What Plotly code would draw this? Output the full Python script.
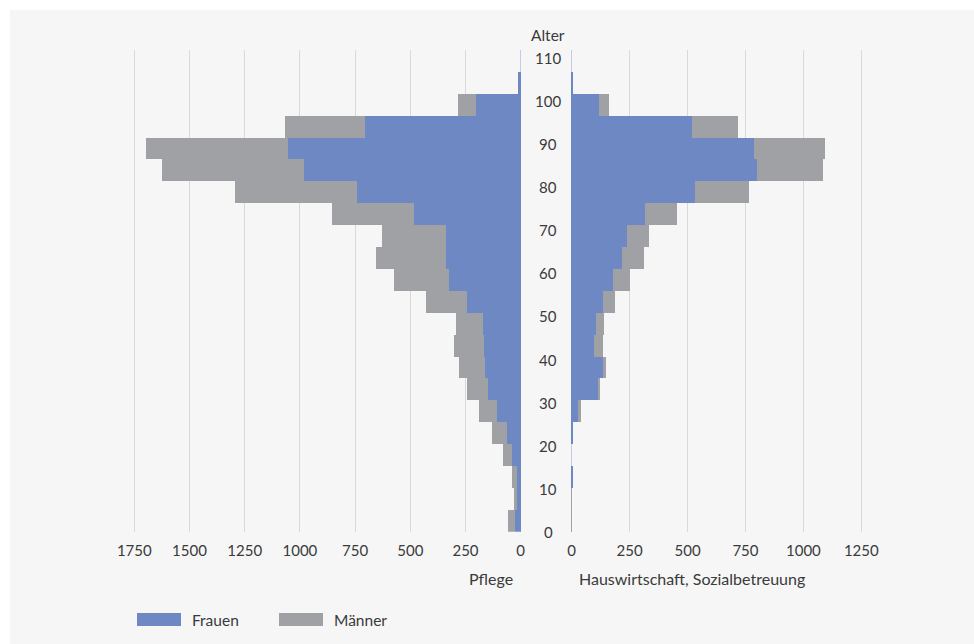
import plotly.graph_objects as go

# ---------------- data ----------------
AGE_GROUPS = ["0-4", "5-9", "10-14", "15-19", "20-24", "25-29", "30-34", "35-39",
              "40-44", "45-49", "50-54", "55-59", "60-64", "65-69", "70-74", "75-79",
              "80-84", "85-89", "90-94", "95-99", "100-104", "105+"]

PFLEGE_FRAUEN = [24, 18, 18, 41, 63, 109, 147, 162, 166, 172, 245, 325, 340, 340,
                 485, 741, 981, 1055, 705, 202, 14, 0]
PFLEGE_MAENNER = [33, 12, 20, 41, 67, 80, 98, 119, 136, 121, 184, 247, 314, 288,
                  370, 551, 645, 641, 364, 83, 0, 0]

HW_FRAUEN = [1, 1, 5, 0, 4, 32, 115, 138, 96, 105, 135, 178, 217, 239,
             316, 535, 800, 787, 519, 117, 7, 0]
HW_MAENNER = [1, 1, 0, 0, 0, 8, 10, 13, 42, 37, 53, 74, 95, 96,
              140, 231, 284, 308, 198, 47, 0, 0]

AGE_TICKS = [0, 10, 20, 30, 40, 50, 60, 70, 80, 90, 100, 110]
LEFT_TICKS = [0, 250, 500, 750, 1000, 1250, 1500, 1750]
RIGHT_TICKS = [0, 250, 500, 750, 1000, 1250]

SERIES = ["Frauen", "Männer"]
COLORS = {"Frauen": "#6e88c4", "Männer": "#a0a1a4"}

# ---------------- layout helpers ----------------
W, H = 974, 644
def px(x):
    return x / W
def py(y):
    return 1 - y / H

FONT = "Lato, 'Noto Sans', sans-serif"
TXT = "#3a3a3a"
GRID = "#d9d9d9"
ZERO = "#c6cde2"

fig = go.Figure()

for name, vals in (("Frauen", PFLEGE_FRAUEN), ("Männer", PFLEGE_MAENNER)):
    fig.add_trace(go.Bar(x=vals, y=AGE_GROUPS, orientation="h", name=name,
                         marker=dict(color=COLORS[name], line=dict(width=0)),
                         xaxis="x", yaxis="y", showlegend=False))
for name, vals in (("Frauen", HW_FRAUEN), ("Männer", HW_MAENNER)):
    fig.add_trace(go.Bar(x=vals, y=AGE_GROUPS, orientation="h", name=name,
                         marker=dict(color=COLORS[name], line=dict(width=0)),
                         xaxis="x2", yaxis="y2", showlegend=False))

ydom = [py(531.7), py(50)]

common_x = dict(showgrid=True, gridcolor=GRID, gridwidth=1, zeroline=True,
                zerolinecolor=ZERO, zerolinewidth=1, showline=False, ticks="",
                ticklabelstandoff=8,
                tickfont=dict(family=FONT, size=15, color=TXT), automargin=False,
                fixedrange=True)

# left panel: 1750 -> 134.3 px, 0 -> 520.7 px ; right: 0 -> 571.7, 1250 -> 861.3
L_PPU = (520.7 - 134.3) / 1750
R_PPU = (861.3 - 571.7) / 1250
L_PAD = 15  # padding in data units so edge gridlines get drawn
R_PAD = 15

fig.update_layout(
    width=W, height=H,
    margin=dict(l=0, r=0, t=0, b=0),
    paper_bgcolor="white",
    plot_bgcolor="rgba(0,0,0,0)",
    barmode="stack", bargap=0,
    font=dict(family=FONT, size=15, color=TXT),
    showlegend=False,
    xaxis=dict(domain=[px(134.3 - L_PAD * L_PPU), px(520.7 + L_PAD * L_PPU)],
               range=[1750 + L_PAD, -L_PAD], tickvals=LEFT_TICKS,
               anchor="y", **common_x),
    xaxis2=dict(domain=[px(571.7 - R_PAD * R_PPU), px(861.3 + R_PAD * R_PPU)],
                range=[-R_PAD, 1250 + R_PAD], tickvals=RIGHT_TICKS,
                anchor="y2", **common_x),
    yaxis=dict(domain=ydom, type="category", categoryorder="array",
               categoryarray=AGE_GROUPS, range=[-0.5, len(AGE_GROUPS) - 0.5],
               anchor="x", showgrid=False, zeroline=False, showticklabels=False,
               ticks="", showline=False),
    yaxis2=dict(domain=ydom, type="category", categoryorder="array",
                categoryarray=AGE_GROUPS, range=[-0.5, len(AGE_GROUPS) - 0.5],
                anchor="x2", showgrid=False, zeroline=False, showticklabels=False,
                ticks="", showline=False),
    yaxis3=dict(domain=ydom, range=[0, 111.9], overlaying="y", anchor="free",
                position=0, showgrid=False, zeroline=False, showticklabels=False,
                ticks="", showline=False, visible=False),
)

shapes = [
    # light grey card background
    dict(type="rect", xref="paper", yref="paper", x0=px(10), x1=1, y0=0, y1=py(10),
         fillcolor="#f6f6f6", line=dict(width=0), layer="below"),
]

annotations = []
# age labels centred between the two panels
for a in AGE_TICKS:
    annotations.append(dict(x=px(548), y=a, xref="paper", yref="y3", text=str(a),
                            showarrow=False, xanchor="center", yanchor="middle",
                            font=dict(family=FONT, size=15, color=TXT)))
annotations.append(dict(x=px(548), y=py(35), xref="paper", yref="paper", text="Alter",
                        showarrow=False, xanchor="center", yanchor="middle",
                        font=dict(family=FONT, size=15.5, color=TXT)))
annotations.append(dict(x=px(515), y=py(578), xref="paper", yref="paper", text="Pflege",
                        showarrow=False, xanchor="right", yanchor="middle",
                        font=dict(family=FONT, size=16, color=TXT)))
annotations.append(dict(x=px(577), y=py(578), xref="paper", yref="paper",
                        text="Hauswirtschaft, Sozialbetreuung",
                        showarrow=False, xanchor="left", yanchor="middle",
                        font=dict(family=FONT, size=16, color=TXT)))

# custom legend
leg_x = [137, 279]
for name, x0 in zip(SERIES, leg_x):
    shapes.append(dict(type="rect", xref="paper", yref="paper",
                       x0=px(x0), x1=px(x0 + 44), y0=py(626), y1=py(613),
                       fillcolor=COLORS[name], line=dict(width=0)))
    annotations.append(dict(x=px(x0 + 53), y=py(619.5), xref="paper", yref="paper",
                            text=name, showarrow=False, xanchor="left", yanchor="middle",
                            font=dict(family=FONT, size=15.5, color=TXT)))

fig.update_layout(shapes=shapes, annotations=annotations)

fig.write_html("out.html", config={"displayModeBar": False},
               post_script="document.body.style.margin='0';document.body.style.overflow='hidden';")
